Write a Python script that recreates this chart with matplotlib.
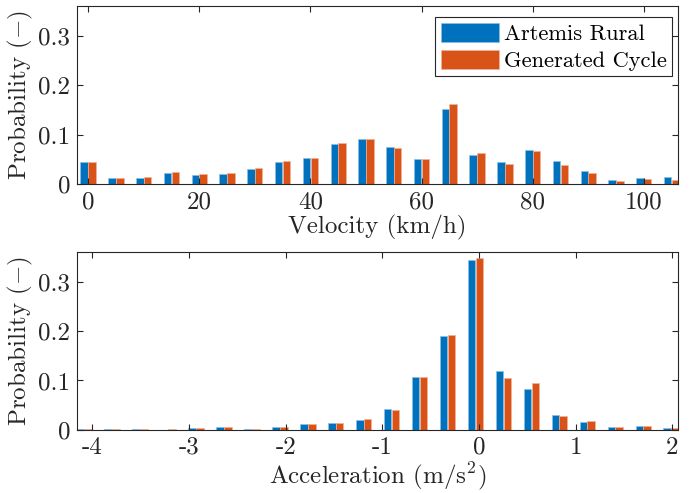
import matplotlib
matplotlib.use('Agg')
import matplotlib.pyplot as plt
import numpy as np

plt.rcParams['font.family'] = 'serif'
plt.rcParams['font.serif'] = ['cmr10']
plt.rcParams['mathtext.fontset'] = 'cm'
plt.rcParams['axes.unicode_minus'] = False

# velocity histogram (bin centres in km/h)
vel_bins = [0, 5, 10, 15, 20, 25, 30, 35, 40, 45, 50,
            55, 60, 65, 70, 75, 80, 85, 90, 95, 100, 105]
vel_artemis = [0.0447, 0.0129, 0.0136, 0.0230, 0.0190, 0.0200, 0.0305, 0.0447,
               0.0535, 0.0820, 0.0908, 0.0745, 0.0515, 0.1520, 0.0596, 0.0447,
               0.0698, 0.0467, 0.0278, 0.0088, 0.0129, 0.0149]
vel_generated = [0.0454, 0.0129, 0.0149, 0.0244, 0.0210, 0.0220, 0.0330, 0.0467,
                 0.0535, 0.0827, 0.0920, 0.0738, 0.0515, 0.1630, 0.0623, 0.0420,
                 0.0664, 0.0386, 0.0237, 0.0075, 0.0108, 0.0095]

# acceleration histogram (bin centres in m/s^2)
acc_bins = [-4.086, -3.797, -3.507, -3.218, -2.929, -2.639, -2.350, -2.061,
            -1.771, -1.482, -1.193, -0.904, -0.614, -0.325, -0.036, 0.254,
            0.543, 0.832, 1.121, 1.411, 1.700, 1.989]
acc_artemis = [0.0013, 0.0013, 0.0010, 0.0007, 0.0034, 0.0054, 0.0013, 0.0054,
               0.0114, 0.0141, 0.0201, 0.0423, 0.1080, 0.1906, 0.3436, 0.1200,
               0.0832, 0.0295, 0.0168, 0.0060, 0.0074, 0.0040]
acc_generated = [0.0027, 0.0013, 0.0027, 0.0013, 0.0034, 0.0054, 0.0013, 0.0054,
                 0.0114, 0.0134, 0.0215, 0.0396, 0.1067, 0.1926, 0.3483, 0.1047,
                 0.0940, 0.0282, 0.0174, 0.0060, 0.0074, 0.0034]

blue = '#0072BD'
orange = '#D95319'
axcol = '#262626'
fs = 18


def style(ax):
  ax.tick_params(direction='in', top=True, right=True, length=4, width=0.8,
                 colors=axcol, labelsize=fs, pad=5)
  for s in ax.spines.values():
    s.set_color(axcol)
    s.set_linewidth(0.8)
  ax.set_ylim(0, 0.36)
  ax.set_yticks([0, 0.1, 0.2, 0.3])
  ax.set_yticklabels(['0', '0.1', '0.2', '0.3'])
  ax.set_ylabel(r'Probability ($-$)', fontsize=fs, color=axcol, labelpad=2)


def grouped(ax, x, a, b, w):
  x = np.asarray(x)
  bw = 0.27 * w
  off = 0.14 * w
  ax.bar(x - off, a, bw, color=blue, edgecolor='#8cc0e4', linewidth=0.5,
         label='Artemis Rural')
  ax.bar(x + off, b, bw, color=orange, edgecolor='#f0b39a', linewidth=0.5,
         label='Generated Cycle')


fig = plt.figure(figsize=(7, 4.93), dpi=100)

ax1 = fig.add_axes([0.110, 0.626, 0.859, 0.362])
grouped(ax1, vel_bins, vel_artemis, vel_generated, 5)
ax1.set_xlim(-2, 106.2)
ax1.set_xticks([0, 20, 40, 60, 80, 100])
ax1.set_xticklabels(['0', '20', '40', '60', '80', '100'])
ax1.set_xlabel('Velocity (km/h)', fontsize=fs, color=axcol, labelpad=1)
style(ax1)
leg = ax1.legend(loc='upper right', bbox_to_anchor=(672 / 700, 1 - 17 / 493),
                 bbox_transform=fig.transFigure, fontsize=16.2, fancybox=False,
                 framealpha=1, edgecolor=axcol, handlelength=2.58,
                 handleheight=0.93, borderaxespad=0, borderpad=0.25,
                 labelspacing=0.25, handletextpad=0.22)
leg.get_frame().set_linewidth(0.8)

ax2 = fig.add_axes([0.110, 0.128, 0.859, 0.361])
grouped(ax2, acc_bins, acc_artemis, acc_generated, 0.2893)
ax2.set_xlim(-4.16, 2.063)
ax2.set_xticks([-4, -3, -2, -1, 0, 1, 2])
ax2.set_xticklabels(['-4', '-3', '-2', '-1', '0', '1', '2'])
ax2.set_xlabel(r'Acceleration (m/s$^2$)', fontsize=fs, color=axcol, labelpad=1)
style(ax2)

fig.savefig('out.png', dpi=100)
